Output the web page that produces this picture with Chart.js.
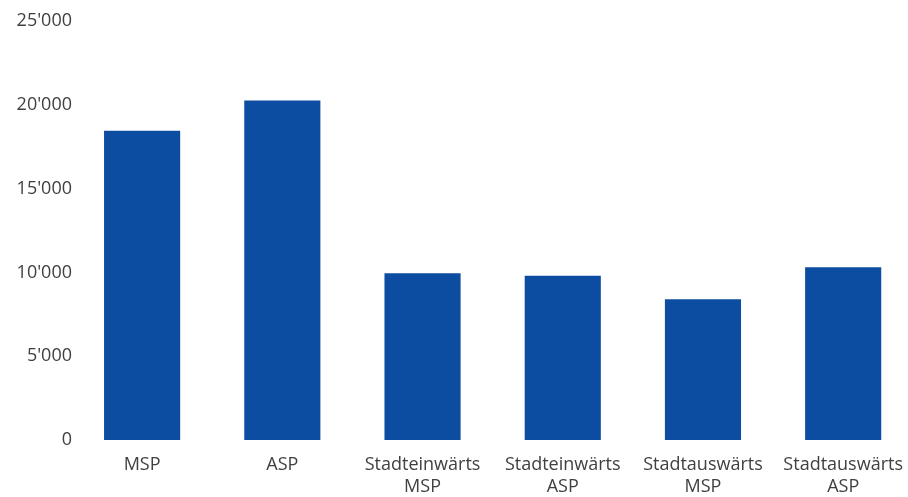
<!DOCTYPE html>
<html>
<head>
<meta charset="utf-8">
<script src="https://cdn.jsdelivr.net/npm/chart.js@4"></script>
<style>
  html, body { margin: 0; padding: 0; background: #fff; overflow: hidden; }
  #wrap { width: 917px; height: 497px; }
</style>
</head>
<body>
<div id="wrap"><canvas id="chart"></canvas></div>
<script>
const labels = [
  ["MSP"],
  ["ASP"],
  ["Stadteinwärts", "MSP"],
  ["Stadteinwärts", "ASP"],
  ["Stadtauswärts", "MSP"],
  ["Stadtauswärts", "ASP"]
];
const values = [18450, 20250, 9950, 9800, 8400, 10300];
const yTicks = [0, 5000, 10000, 15000, 20000, 25000];

function fmt(v) {
  return String(v).replace(/\B(?=(\d{3})+(?!\d))/g, "'");
}

Chart.defaults.font.family = "'Open Sans', 'Noto Sans', sans-serif";
Chart.defaults.font.size = 18;
Chart.defaults.color = "#404040";

const ctx = document.getElementById("chart").getContext("2d");
new Chart(ctx, {
  type: "bar",
  data: {
    labels: labels,
    datasets: [{
      data: values,
      backgroundColor: "#0C4DA2",
      barPercentage: 0.543,
      categoryPercentage: 1.0
    }]
  },
  options: {
    responsive: true,
    maintainAspectRatio: false,
    animation: false,
    layout: { padding: { top: 21, right: 0, bottom: 0, left: 0 } },
    plugins: { legend: { display: false }, tooltip: { enabled: false } },
    scales: {
      x: {
        grid: { display: false, drawTicks: false },
        border: { display: false },
        afterFit: (s) => { s.height = 57; },
        ticks: { padding: 14, maxRotation: 0, autoSkip: false, font: { lineHeight: 1.2 } }
      },
      y: {
        min: 0,
        max: 25000,
        afterFit: (s) => { s.width = 72; },
        afterBuildTicks: (s) => { s.ticks = yTicks.map(v => ({ value: v })); },
        grid: { display: false, drawTicks: false },
        border: { display: false },
        ticks: { padding: 0, callback: (v) => fmt(v) }
      }
    }
  }
});
</script>
</body>
</html>
